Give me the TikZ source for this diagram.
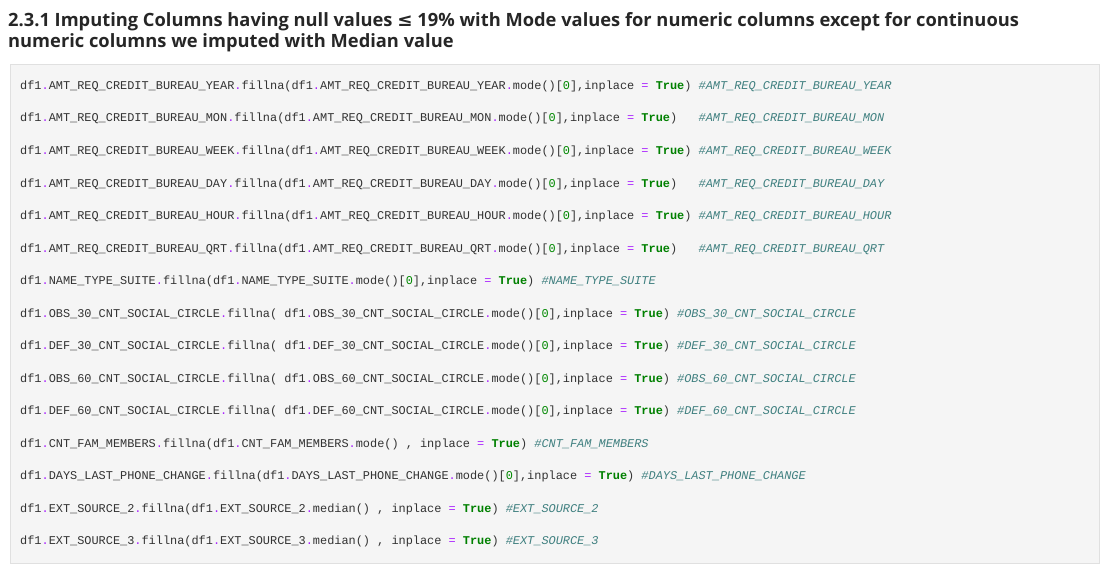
\documentclass[tikz,border=0pt]{standalone}
\usepackage{fontspec}
\setmainfont{Open Sans}
\setmonofont{Liberation Mono}
\newfontfamily\symfont{DejaVu Sans}
\definecolor{cellbg}{HTML}{F5F5F5}
\definecolor{cellline}{HTML}{E0E0E0}
\definecolor{codetxt}{HTML}{333333}
\definecolor{oppurple}{HTML}{AA22FF}
\definecolor{kwgreen}{HTML}{008000}
\definecolor{numgreen}{HTML}{008800}
\definecolor{cmteal}{HTML}{408080}
\newcommand{\dt}{\textcolor{oppurple}{.}}
\newcommand{\eq}{\textcolor{oppurple}{=}}
\newcommand{\tru}{\textcolor{kwgreen}{\bfseries True}}
\newcommand{\zro}{[\textcolor{numgreen}{0}]}
\newcommand{\cmt}[1]{\textcolor{cmteal}{\itshape\##1}}

\begin{document}
\begin{tikzpicture}[x=1pt,y=-1pt,
  codeline/.style={anchor=west,inner sep=0pt,font=\ttfamily\fontsize{11.9}{14}\selectfont,text=codetxt},
  heading/.style={anchor=west,inner sep=0pt,font=\fontsize{18.3}{22}\selectfont\bfseries,text=black!85}]
  \useasboundingbox (0,0) rectangle (1110,574);
  % heading
  \node[heading] (h1) at (8,22) {2.3.1 Imputing Columns having null values {\symfont ≤} 19\% with Mode values for numeric columns except for continuous};
  \node[heading] (h2) at (8,43) {numeric columns we imputed with Median value};
  % code cell
  \draw[fill=cellbg,draw=cellline] (10,64) rectangle (1099,563);

  \node[codeline] (l1) at (20,86) {df1\dt AMT\_REQ\_CREDIT\_BUREAU\_YEAR\dt fillna(df1\dt AMT\_REQ\_CREDIT\_BUREAU\_YEAR\dt mode()\zro,inplace \eq{} \tru) \cmt{AMT\_REQ\_CREDIT\_BUREAU\_YEAR}};
  \node[codeline] (l2) at (20,118) {df1\dt AMT\_REQ\_CREDIT\_BUREAU\_MON\dt fillna(df1\dt AMT\_REQ\_CREDIT\_BUREAU\_MON\dt mode()\zro,inplace \eq{} \tru)~~ \cmt{AMT\_REQ\_CREDIT\_BUREAU\_MON}};
  \node[codeline] (l3) at (20,151) {df1\dt AMT\_REQ\_CREDIT\_BUREAU\_WEEK\dt fillna(df1\dt AMT\_REQ\_CREDIT\_BUREAU\_WEEK\dt mode()\zro,inplace \eq{} \tru) \cmt{AMT\_REQ\_CREDIT\_BUREAU\_WEEK}};
  \node[codeline] (l4) at (20,184) {df1\dt AMT\_REQ\_CREDIT\_BUREAU\_DAY\dt fillna(df1\dt AMT\_REQ\_CREDIT\_BUREAU\_DAY\dt mode()\zro,inplace \eq{} \tru)~~ \cmt{AMT\_REQ\_CREDIT\_BUREAU\_DAY}};
  \node[codeline] (l5) at (20,216) {df1\dt AMT\_REQ\_CREDIT\_BUREAU\_HOUR\dt fillna(df1\dt AMT\_REQ\_CREDIT\_BUREAU\_HOUR\dt mode()\zro,inplace \eq{} \tru) \cmt{AMT\_REQ\_CREDIT\_BUREAU\_HOUR}};
  \node[codeline] (l6) at (20,249) {df1\dt AMT\_REQ\_CREDIT\_BUREAU\_QRT\dt fillna(df1\dt AMT\_REQ\_CREDIT\_BUREAU\_QRT\dt mode()\zro,inplace \eq{} \tru)~~ \cmt{AMT\_REQ\_CREDIT\_BUREAU\_QRT}};
  \node[codeline] (l7) at (20,281) {df1\dt NAME\_TYPE\_SUITE\dt fillna(df1\dt NAME\_TYPE\_SUITE\dt mode()\zro,inplace \eq{} \tru) \cmt{NAME\_TYPE\_SUITE}};
  \node[codeline] (l8) at (20,314) {df1\dt OBS\_30\_CNT\_SOCIAL\_CIRCLE\dt fillna( df1\dt OBS\_30\_CNT\_SOCIAL\_CIRCLE\dt mode()\zro,inplace \eq{} \tru) \cmt{OBS\_30\_CNT\_SOCIAL\_CIRCLE}};
  \node[codeline] (l9) at (20,346) {df1\dt DEF\_30\_CNT\_SOCIAL\_CIRCLE\dt fillna( df1\dt DEF\_30\_CNT\_SOCIAL\_CIRCLE\dt mode()\zro,inplace \eq{} \tru) \cmt{DEF\_30\_CNT\_SOCIAL\_CIRCLE}};
  \node[codeline] (l10) at (20,379) {df1\dt OBS\_60\_CNT\_SOCIAL\_CIRCLE\dt fillna( df1\dt OBS\_60\_CNT\_SOCIAL\_CIRCLE\dt mode()\zro,inplace \eq{} \tru) \cmt{OBS\_60\_CNT\_SOCIAL\_CIRCLE}};
  \node[codeline] (l11) at (20,411) {df1\dt DEF\_60\_CNT\_SOCIAL\_CIRCLE\dt fillna( df1\dt DEF\_60\_CNT\_SOCIAL\_CIRCLE\dt mode()\zro,inplace \eq{} \tru) \cmt{DEF\_60\_CNT\_SOCIAL\_CIRCLE}};
  \node[codeline] (l12) at (20,444) {df1\dt CNT\_FAM\_MEMBERS\dt fillna(df1\dt CNT\_FAM\_MEMBERS\dt mode() , inplace \eq{} \tru) \cmt{CNT\_FAM\_MEMBERS}};
  \node[codeline] (l13) at (20,476) {df1\dt DAYS\_LAST\_PHONE\_CHANGE\dt fillna(df1\dt DAYS\_LAST\_PHONE\_CHANGE\dt mode()\zro,inplace \eq{} \tru) \cmt{DAYS\_LAST\_PHONE\_CHANGE}};
  \node[codeline] (l14) at (20,509) {df1\dt EXT\_SOURCE\_2\dt fillna(df1\dt EXT\_SOURCE\_2\dt median() , inplace \eq{} \tru) \cmt{EXT\_SOURCE\_2}};
  \node[codeline] (l15) at (20,541) {df1\dt EXT\_SOURCE\_3\dt fillna(df1\dt EXT\_SOURCE\_3\dt median() , inplace \eq{} \tru) \cmt{EXT\_SOURCE\_3}};
\end{tikzpicture}
\end{document}
